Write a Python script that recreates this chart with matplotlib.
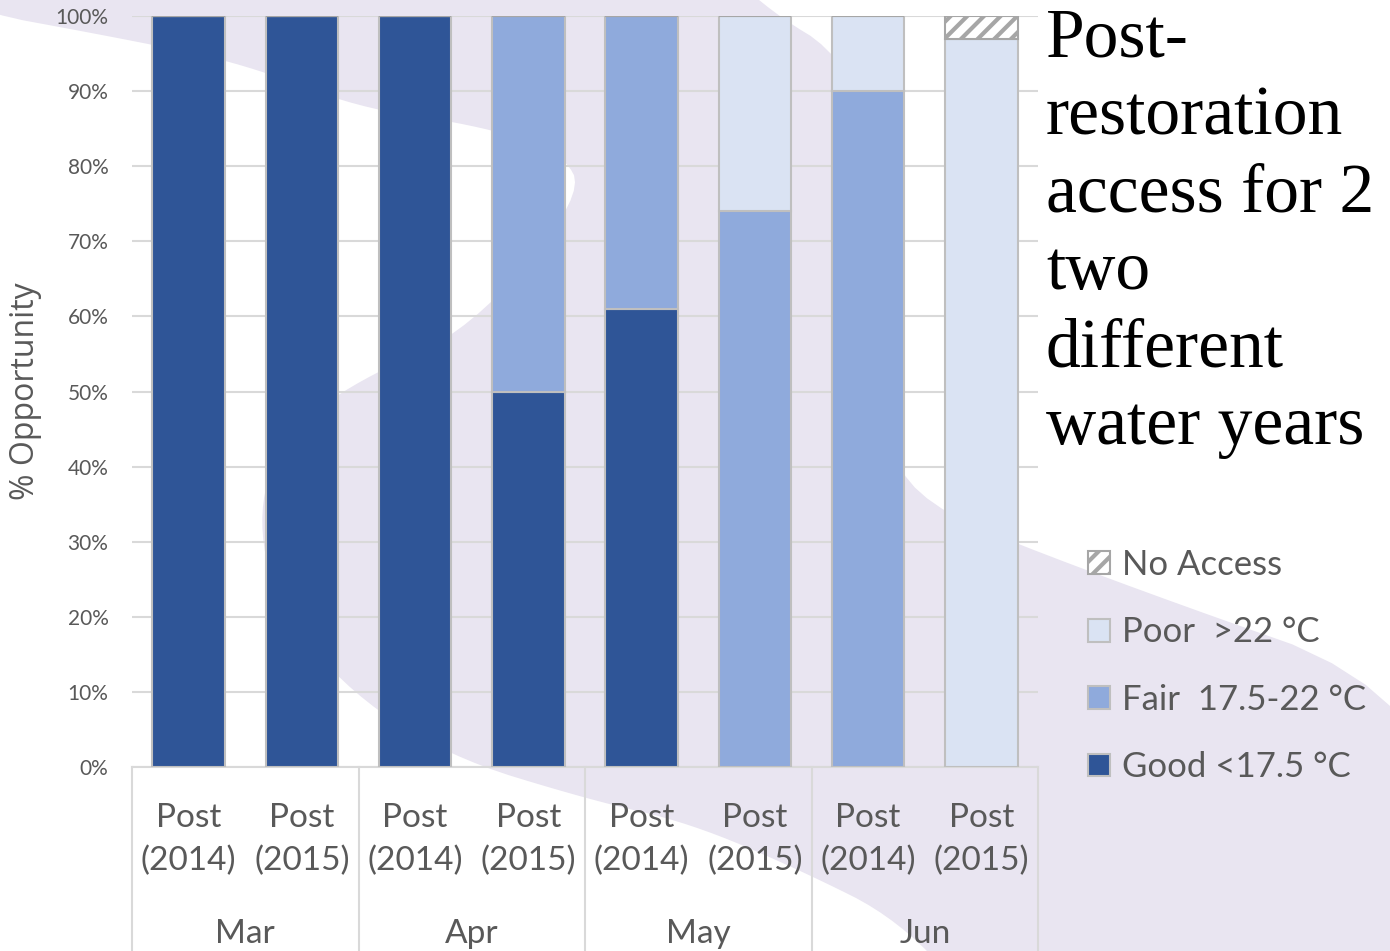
import numpy as np
import matplotlib.pyplot as plt
from matplotlib.patches import Polygon, Patch
from matplotlib.lines import Line2D

# data
months = ["Mar", "Apr", "May", "Jun"]
years = ["Post\n(2014)", "Post\n(2015)"] * 4
good = [100, 100, 100, 50, 61, 0, 0, 0]
fair = [0, 0, 0, 50, 39, 74, 90, 0]
poor = [0, 0, 0, 0, 0, 26, 10, 97]
no_access = [0, 0, 0, 0, 0, 0, 0, 3]

series = [("Good <17.5 °C", good, "#2F5597"),
          ("Fair  17.5-22 °C", fair, "#8FAADC"),
          ("Poor  >22 °C", poor, "#DAE3F3")]

plt.rcParams['font.family'] = ['Lato', 'DejaVu Sans']
plt.rcParams['hatch.linewidth'] = 3.0
txt = "#595959"
W, H = 1390, 951

fig = plt.figure(figsize=(13.9, 9.51), dpi=100)


def chaikin(pts, n=3):
    # round off the corners of a closed outline
    pts = np.asarray(pts, float)
    for _ in range(n):
        nxt = np.roll(pts, -1, axis=0)
        q = 0.75 * pts + 0.25 * nxt
        r = 0.25 * pts + 0.75 * nxt
        pts = np.empty((2 * len(q), 2))
        pts[0::2], pts[1::2] = q, r
    return pts


# faint lavender swoosh in the slide background (pixel outline, y down)
swoosh = [(-60, -60), (700, -60), (760, 5), (850, 60), (890, 200), (895, 400),
          (897, 495), (1090, 573), (1450, 700), (1450, 1010), (980, 1010),
          (900, 920), (800, 870), (690, 823), (590, 800), (446, 756),
          (339, 684), (270, 590), (258, 500), (290, 430), (358, 380),
          (471, 330), (585, 195), (560, 150), (471, 124), (358, 108),
          (245, 64), (130, 40), (-60, 5)]
outline = chaikin(swoosh)
fig.patches.append(Polygon(np.column_stack([outline[:, 0] / W, 1 - outline[:, 1] / H]),
                           closed=True, facecolor="#E9E5F1", edgecolor="none",
                           transform=fig.transFigure, zorder=-1))

ax = fig.add_axes([132 / W, 1 - 767 / H, (1038 - 132) / W, (767 - 16) / H])
ax.patch.set_alpha(0)

x = np.arange(len(good))
bottom = np.zeros(len(good))
for name, vals, col in series:
    ax.bar(x, vals, 0.64, bottom=bottom, color=col, edgecolor="#BFBFBF",
           linewidth=1.5, zorder=3)
    bottom += np.array(vals)
ax.bar(x, no_access, 0.64, bottom=bottom, color="white", edgecolor="#A6A6A6",
       hatch="//", linewidth=1.5, zorder=3)

ax.set_xlim(-0.5, 7.5)
ax.set_ylim(0, 100)
ax.set_yticks(np.arange(0, 101, 10))
ax.set_yticklabels([f"{v}%" for v in range(0, 101, 10)], color=txt, fontsize=15)
ax.grid(axis="y", color="#D9D9D9", lw=1.5, zorder=0)
ax.tick_params(axis="y", length=0, pad=17)
for s in ["top", "right", "left"]:
    ax.spines[s].set_visible(False)
ax.spines["bottom"].set_color("#D9D9D9")
ax.spines["bottom"].set_linewidth(1.5)

ax.set_xticks(x)
ax.set_xticklabels(years, color=txt, fontsize=24, linespacing=1.52)
ax.tick_params(axis="x", length=0, pad=26)

# month groups and separators below the axis
tr = ax.get_xaxis_transform()
for i, m in enumerate(months):
    ax.text(2 * i + 0.5, -0.222, m, transform=tr, ha="center", va="center",
            color=txt, fontsize=24)
for xs in np.arange(-0.5, 8, 2):
    ax.add_line(Line2D([xs, xs], [0, -0.3], transform=tr, color="#D9D9D9",
                       lw=1.5, clip_on=False))

ax.set_ylabel("% Opportunity", color=txt, fontsize=23, fontfamily="Open Sans")
ax.yaxis.set_label_coords(-0.099, 0.5)

fig.text(1046 / W, 1 - 8 / H,
         "Post-\nrestoration\naccess for 2\ntwo\ndifferent\nwater years",
         fontfamily="Liberation Serif", fontsize=50, va="top", ha="left",
         linespacing=1.29, color="black")

handles = [Patch(facecolor="white", edgecolor="#A6A6A6", hatch="//", lw=1.5)]
handles += [Patch(facecolor=c, edgecolor="#BFBFBF", lw=1.5) for _, _, c in reversed(series)]
labels = ["No Access"] + [n for n, _, _ in reversed(series)]
fig.legend(handles, labels, loc="upper left",
           bbox_to_anchor=(1088 / W, 1 - 549 / H), frameon=False,
           fontsize=25, handlelength=0.63, handleheight=0.63,
           handletextpad=0.35, labelspacing=1.02, labelcolor=txt,
           borderpad=0, borderaxespad=0)

fig.savefig("out.png", dpi=100)
